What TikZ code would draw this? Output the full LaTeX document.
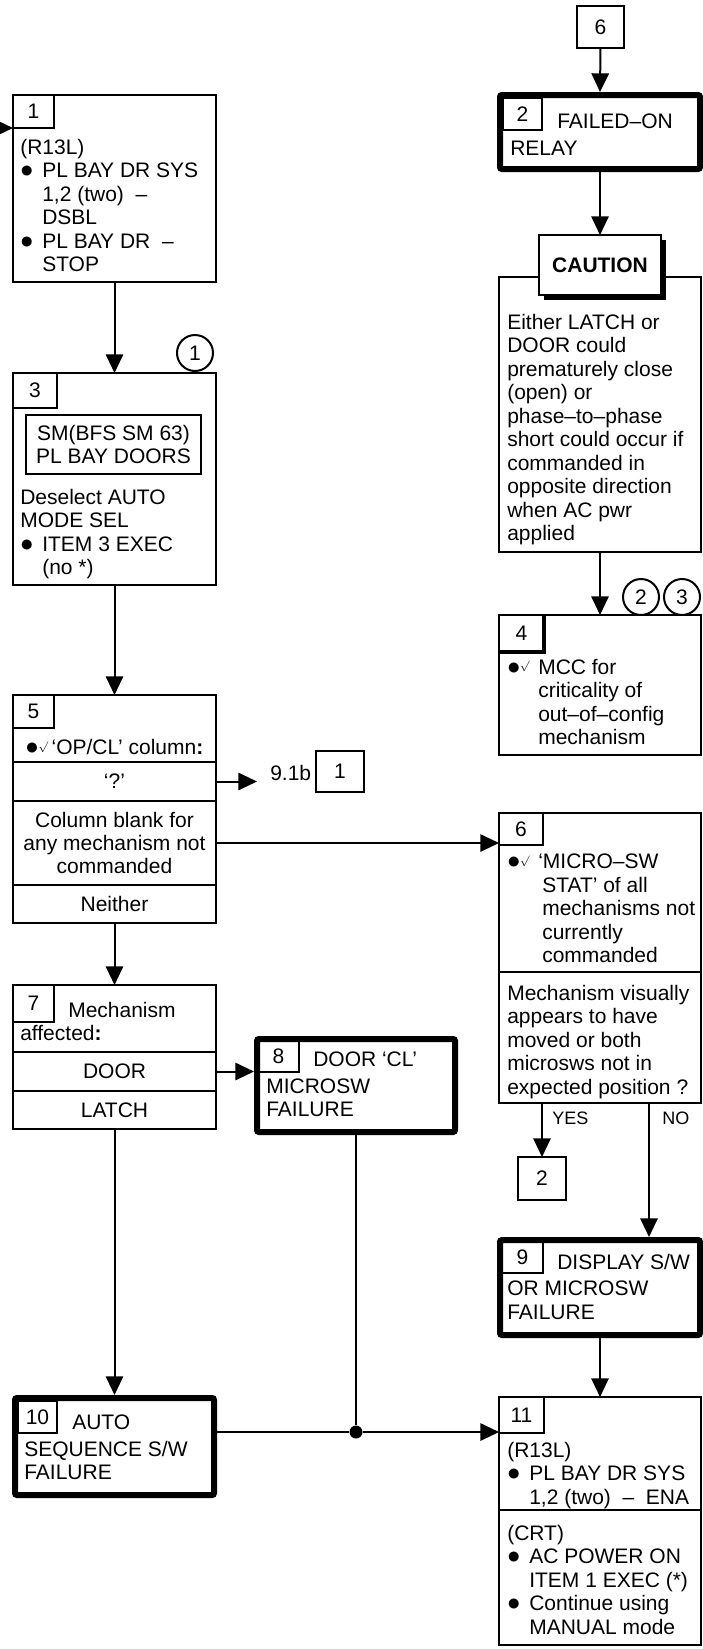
\documentclass[tikz,border=0pt]{standalone}
\usepackage{fontspec}
\setmainfont{Liberation Sans}
\usepackage{tikz}
\usetikzlibrary{
    arrows.meta,
    positioning,
    calc,
    shadows
}
\newcommand{\px}{0.75pt}
\newcommand{\dotmark}{\smash{\scalebox{1.35}{$\bullet$}}}
\newcommand{\bl}{\makebox[16.5pt][l]{\dotmark}}
\newcommand{\hg}{\hspace*{16.5pt}}
\newcommand{\chk}{\dotmark\raisebox{0.45ex}{\smash{\footnotesize$\surd$}}}

\begin{document}
\begin{tikzpicture}[
    x=0.75pt, y=-0.75pt,
    font=\fontsize{15.75pt}{17.6pt}\selectfont,
    box/.style={
        rectangle,
        draw=black,
        line width=1.5pt,
        anchor=north west,
        inner sep=0pt,
        outer sep=0pt,
        align=center
    },
    thickbox/.style={
        rectangle,
        draw=black,
        line width=4.5pt,
        rounded corners=1.5pt,
        anchor=north west,
        inner sep=0pt
    },
    numbox/.style={
        rectangle,
        draw=black,
        line width=1.5pt,
        anchor=north west,
        inner sep=0pt,
        outer sep=0pt
    },
    txt/.style={anchor=north west, align=left, inner sep=0pt},
    circ/.style={circle, draw=black, line width=1.5pt, minimum size=36*\px, inner sep=0pt},
    lbl/.style={anchor=west, inner sep=0pt, font=\fontsize{13.5pt}{15pt}\selectfont},
    arrow/.style={-{Triangle[length=14pt,width=13pt]}, line width=1.5pt},
    line/.style={line width=1.5pt}
]
\useasboundingbox (0,0) rectangle (703,1649);

% Step 1
\coordinate (in1) at (0,128);
\node[box, minimum width=203*\px, minimum height=187*\px] (b1) at (13,95) {};
\node[numbox, minimum width=41*\px, minimum height=33*\px] (n1) at (b1.north west) {1};
\node[txt] (t1) at (20,139) {(R13L)\\ \bl PL BAY DR SYS\\ \hg 1,2 (two)\ \ --\\ \hg DSBL\\ \bl PL BAY DR\ \ --\\ \hg STOP};

% Step 3
\node[circ] (c1) at (195,353) {1};
\node[box, minimum width=203*\px, minimum height=212*\px] (b3) at (13,373) {};
\node[numbox, minimum width=44*\px, minimum height=35*\px] (n3) at (b3.north west) {3};
\node[box, minimum width=175*\px, minimum height=59*\px] (sm3) at (26,415) {SM(BFS SM 63)\\ PL BAY DOORS};
\node[txt] (t3) at (20,489) {Deselect AUTO\\ MODE SEL\\ \bl ITEM 3 EXEC\\ \hg (no *)};

% Step 5
\node[box, minimum width=203*\px, minimum height=67*\px] (b5) at (13,695) {};
\node[numbox, minimum width=41*\px, minimum height=33*\px] (n5) at (b5.north west) {5};
\node[inner sep=0pt] (t5) at (114.5,747) {\chk\,‘OP/CL’ column\textbf{:}};
\node[box, minimum width=203*\px, minimum height=39*\px] (b5q) at (b5.south west) {‘?’};
\node[box, minimum width=203*\px, minimum height=84*\px] (b5c) at (b5q.south west) {Column blank for\\ any mechanism not\\ commanded};
\node[box, minimum width=203*\px, minimum height=38*\px] (b5n) at (b5c.south west) {Neither};
\coordinate (q91) at (257,781.5);
\node[anchor=west, inner sep=0pt] (l91) at (270,773) {9.1b};
\node[box, minimum width=48*\px, minimum height=41*\px] (g1) at (316,751) {1};

% Step 7
\node[box, minimum width=203*\px, minimum height=67*\px] (b7) at (13,985) {};
\node[numbox, minimum width=41*\px, minimum height=37*\px] (n7) at (b7.north west) {7};
\node[txt] (t7) at (20,1002) {\hspace*{36pt}Mechanism\\ affected\textbf{:}};
\node[box, minimum width=203*\px, minimum height=39*\px] (b7d) at (b7.south west) {DOOR};
\node[box, minimum width=203*\px, minimum height=38*\px] (b7l) at (b7d.south west) {LATCH};

% Step 8
\node[thickbox, minimum width=198*\px, minimum height=93*\px] (b8) at (254,1036) {};
\node[numbox, minimum width=41*\px, minimum height=32*\px] (n8) at (258,1040) {8};
\node[txt] (t8) at (266,1052) {\hspace*{35.25pt}DOOR ‘CL’\\[2pt] MICROSW\\ FAILURE};

% Step 10
\node[thickbox, minimum width=199*\px, minimum height=97*\px] (b10) at (12,1395) {};
\node[numbox, minimum width=39*\px, minimum height=32*\px] (n10) at (18,1401) {10};
\node[txt] (t10) at (24,1415) {\hspace*{36pt}AUTO\\[2pt] SEQUENCE S/W\\ FAILURE};
\node[circle, fill=black, minimum size=13*\px, inner sep=0pt] (junc) at (356,1432) {};

% Step 2
\node[box, minimum width=47*\px, minimum height=42*\px] (g6) at (577,6) {6};
\node[thickbox, minimum width=200*\px, minimum height=74*\px] (b2) at (497,92) {};
\node[numbox, minimum width=39*\px, minimum height=32*\px] (n2) at (503,98) {2};
\node[txt] (t2) at (510,114) {\hspace*{35.25pt}FAILED--ON\\[2pt] RELAY};

% Caution
\node[box, minimum width=202*\px, minimum height=275*\px] (cbox) at (499,277) {};
\node[box, fill=white, minimum width=122*\px, minimum height=60*\px,
    font=\fontsize{15.75pt}{17.6pt}\selectfont\bfseries,
    drop shadow={shadow xshift=4pt, shadow yshift=-4pt, fill=black, opacity=1}] (caut) at (539,235) {CAUTION};
\node[txt] (tc) at (507,314) {Either LATCH or\\ DOOR could\\ prematurely close\\ (open) or\\ phase--to--phase\\ short could occur if\\ commanded in\\ opposite direction\\ when AC pwr\\ applied};

% Step 4
\node[circ] (c2) at (641,597) {2};
\node[circ] (c3) at (682,597) {3};
\node[box, minimum width=202*\px, minimum height=140*\px] (b4) at (499,615) {};
\node[numbox, minimum width=45*\px, minimum height=37*\px] (n4) at (b4.north west) {4};
\draw[line width=3pt] (n4.north east) -- (n4.south east) -- (n4.south west);
\node[txt] (t4) at (507,659) {\makebox[23.25pt][l]{\chk}MCC for\\ \hspace*{23.25pt}criticality of\\ \hspace*{23.25pt}out--of--config\\ \hspace*{23.25pt}mechanism};

% Step 6
\node[box, minimum width=202*\px, minimum height=159*\px] (b6) at (499,813) {};
\node[numbox, minimum width=44*\px, minimum height=32*\px] (n6) at (b6.north west) {6};
\node[txt] (t6) at (507,854) {\makebox[23.25pt][l]{\chk}‘MICRO--SW\\ \hspace*{26.25pt}STAT’ of all\\ \hspace*{26.25pt}mechanisms not\\ \hspace*{26.25pt}currently\\ \hspace*{26.25pt}commanded};
\node[box, minimum width=202*\px, minimum height=131*\px] (b6q) at (b6.south west) {};
\node[txt] (t6q) at (507,985) {Mechanism visually\\ appears to have\\ moved or both\\ microsws not in\\ expected position ?};
\node[box, minimum width=48*\px, minimum height=43*\px] (g2) at (518,1157) {2};
\node[lbl] (lyes) at (552,1118) {YES};
\node[lbl] (lno) at (662,1118) {NO};
\coordinate (noq) at ($(b6q.south)+(49,0)$);

% Step 9
\node[thickbox, minimum width=200*\px, minimum height=95*\px] (b9) at (497,1237) {};
\node[numbox, minimum width=41*\px, minimum height=31*\px] (n9) at (502,1242) {9};
\node[txt] (t9) at (507,1254) {\hspace*{37.5pt}DISPLAY S/W\\[2pt] OR MICROSW\\ FAILURE};

% Step 11
\node[box, minimum width=202*\px, minimum height=113*\px] (b11) at (499,1397) {};
\node[numbox, minimum width=45*\px, minimum height=36*\px] (n11) at (b11.north west) {11};
\node[txt] (t11) at (507,1442) {(R13L)\\ \bl PL BAY DR SYS\\ \hg 1,2 (two)\ \ --\ \ ENA};
\node[box, minimum width=202*\px, minimum height=135*\px] (b11c) at (b11.south west) {};
\node[txt] (t11c) at (507,1525) {(CRT)\\ \bl AC POWER ON\\ \hg ITEM 1 EXEC (*)\\ \bl Continue using\\ \hg MANUAL mode};

% Arrows
\draw[arrow] (in1) -- (n1.south west);
\draw[arrow] (b1.south) -- (b3.north);
\draw[arrow] (b3.south) -- (b5.north);
\draw[arrow] (b5q.east) -- (q91);
\draw[arrow] (b5c.east) -- (b5c.east -| b6.west);
\draw[arrow] (b5n.south) -- (b7.north);
\draw[arrow] (b7d.east) -- (b7d.east -| b8.west);
\draw[arrow] (b7l.south) -- (b10.north);
\draw[line] (junc |- b8.south) -- (junc);
\draw[line] (b10.east |- junc) -- (junc);
\draw[arrow] (junc) -- (junc -| b11.west);
\draw[arrow] (g6.south) -- (b2.north);
\draw[arrow] (b2.south) -- (caut.north);
\draw[arrow] (cbox.south) -- (b4.north);
\draw[arrow] (b6q.south -| g2) -- (g2.north);
\draw[arrow] (noq) -- (noq |- b9.north);
\draw[arrow] (b9.south) -- (b11.north);

\end{tikzpicture}
\end{document}
